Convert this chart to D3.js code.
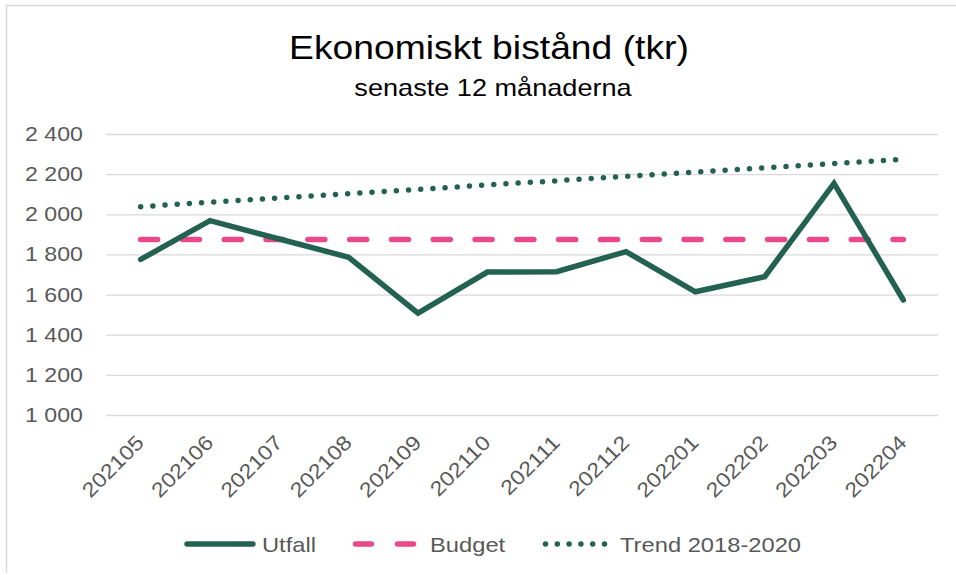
<!DOCTYPE html>
<html>
<head>
<meta charset="utf-8">
<script src="https://cdn.jsdelivr.net/npm/d3@7"></script>
<style>
  body { margin: 0; background: #fff; }
  svg { display: block; font-family: "Liberation Sans", Arial, sans-serif; }
</style>
</head>
<body>
<div id="chart"></div>
<script>
// dades llegides del grafic
const months = ["202105", "202106", "202107", "202108", "202109", "202110",
                "202111", "202112", "202201", "202202", "202203", "202204"];
const utfall = [1775, 1968, 1877, 1786, 1507, 1712, 1714, 1814, 1614, 1689, 2154, 1573];
const budget = [1875, 1875, 1875, 1875, 1875, 1875, 1875, 1875, 1875, 1875, 1875, 1875];
const trend = [2038, 2060, 2081, 2103, 2124, 2146, 2167, 2189, 2210, 2231, 2253, 2274];
const yTicks = [1000, 1200, 1400, 1600, 1800, 2000, 2200, 2400];
const seriesNames = ["Utfall", "Budget", "Trend 2018-2020"];

const W = 956, H = 575;
const green = "#236150", pink = "#e9498a", grey = "#595959";
const sx = 1.13; // text a bit wider than tall

const svg = d3.select("#chart").append("svg")
    .attr("width", W)
    .attr("height", H);

// vora del grafic (nomes dalt i esquerra)
svg.append("line").attr("x1", 6).attr("x2", W).attr("y1", 5.5).attr("y2", 5.5)
    .attr("stroke", "#d9d9d9").attr("stroke-width", 1.5);
svg.append("line").attr("x1", 6.5).attr("x2", 6.5).attr("y1", 5).attr("y2", 573)
    .attr("stroke", "#d9d9d9").attr("stroke-width", 1.5);

// escales
const x = d3.scalePoint()
    .domain(months)
    .range([106, 938])
    .padding(0.5);

const y = d3.scaleLinear()
    .domain([1000, 2400])
    .range([415, 134]);

// titol
svg.append("text")
    .attr("transform", `translate(489, 59) scale(${sx},1)`)
    .attr("text-anchor", "middle")
    .style("font-size", "33px")
    .style("fill", "#000")
    .text("Ekonomiskt bistånd (tkr)");

svg.append("text")
    .attr("transform", `translate(493, 96) scale(${sx},1)`)
    .attr("text-anchor", "middle")
    .style("font-size", "24px")
    .style("fill", "#000")
    .text("senaste 12 månaderna");

// eix Y amb linies de graella
const yAxis = svg.append("g")
    .attr("transform", "translate(106,0)")
    .call(d3.axisLeft(y)
        .tickValues(yTicks)
        .tickSize(-832)
        .tickFormat(d => d3.format(",")(d).replace(",", " ")));
yAxis.select(".domain").remove();
yAxis.selectAll(".tick line").attr("stroke", "#d9d9d9").attr("stroke-width", 1.3);
yAxis.selectAll(".tick text")
    .attr("x", null)
    .attr("transform", `translate(-23,0) scale(${sx},1)`)
    .style("font-size", "20.5px")
    .style("fill", grey)
    .style("font-family", "Liberation Sans, Arial, sans-serif");

// eix X amb etiquetes girades
const xAxis = svg.append("g")
    .attr("transform", "translate(0,415)")
    .call(d3.axisBottom(x).tickSize(0));
xAxis.select(".domain").remove();
xAxis.selectAll(".tick text")
    .attr("x", null).attr("y", null).attr("dy", null)
    .attr("text-anchor", "end")
    .attr("transform", `translate(4,29) rotate(-45) scale(${sx},1)`)
    .style("font-size", "20.5px")
    .style("fill", grey)
    .style("font-family", "Liberation Sans, Arial, sans-serif");

// linies
const line = d3.line()
    .x((d, i) => x(months[i]))
    .y(d => y(d));

svg.append("path")
    .datum(budget)
    .attr("d", line)
    .attr("fill", "none")
    .attr("stroke", pink)
    .attr("stroke-width", 5.5)
    .attr("stroke-linecap", "round")
    .attr("stroke-dasharray", "17 24.8");

svg.append("path")
    .datum(trend)
    .attr("d", line)
    .attr("fill", "none")
    .attr("stroke", green)
    .attr("stroke-width", 5.5)
    .attr("stroke-linecap", "round")
    .attr("stroke-dasharray", "0 12.2");

svg.append("path")
    .datum(utfall)
    .attr("d", line)
    .attr("fill", "none")
    .attr("stroke", green)
    .attr("stroke-width", 5.5)
    .attr("stroke-linejoin", "miter")
    .attr("stroke-linecap", "round");

// llegenda
const legend = [
    {name: seriesNames[0], x1: 187, x2: 253, dash: null, color: green, tx: 262},
    {name: seriesNames[1], x1: 355.5, x2: 413.5, dash: "16 26", color: pink, tx: 430},
    {name: seriesNames[2], x1: 545.5, x2: 605, dash: "0 11.8", color: green, tx: 620}
];
const lg = svg.append("g");
lg.selectAll("line")
    .data(legend)
    .enter()
    .append("line")
        .attr("x1", d => d.x1)
        .attr("x2", d => d.x2)
        .attr("y1", 544)
        .attr("y2", 544)
        .attr("stroke", d => d.color)
        .attr("stroke-width", 5.5)
        .attr("stroke-linecap", "round")
        .attr("stroke-dasharray", d => d.dash);
lg.selectAll("text")
    .data(legend)
    .enter()
    .append("text")
        .attr("transform", d => `translate(${d.tx},551.5) scale(${sx},1)`)
        .style("font-size", "21px")
        .style("fill", grey)
        .text(d => d.name);
</script>
</body>
</html>
